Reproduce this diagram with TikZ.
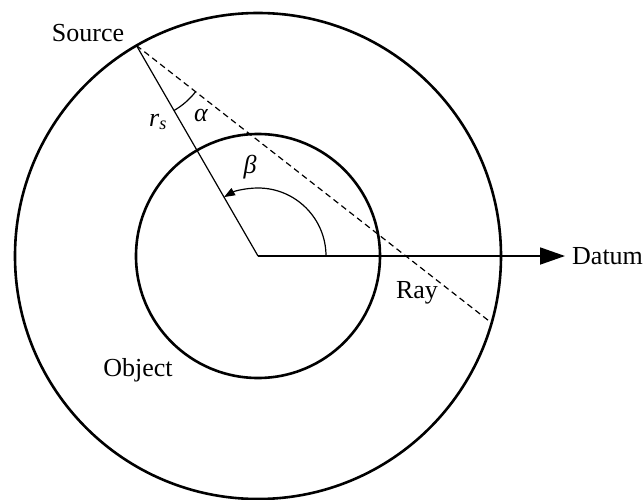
\documentclass[tikz,border=0pt]{standalone}
\usepackage{fontspec}
\setmainfont{Liberation Serif}
\usetikzlibrary{arrows.meta,calc}
\begin{document}
\begin{tikzpicture}[x=1pt,y=1pt,
  lbl/.style={font=\fontsize{26}{30}\selectfont, inner sep=0pt},
  ring/.style={line width=2.6pt},
  thinline/.style={line width=1.2pt},
  rayline/.style={line width=1.2pt, dash pattern=on 6pt off 4pt}]
\useasboundingbox (-258,-243) rectangle (385,256);
\coordinate (O) at (0,0);
\coordinate (S) at (120:243);
\coordinate (R) at (-16:243);
\coordinate (D) at (307,0);
\draw[ring] (O) circle[radius=243];
\draw[ring] (O) circle[radius=122];
\draw[thinline] (S) -- (O);
\draw[rayline] (S) -- (R);
\draw[line width=1.8pt, -{Triangle[length=25pt,width=17pt]}] (O) -- (D);
\draw[thinline] ($(S)+(-60:75)$) arc[start angle=-60, end angle=-38, radius=75];
\draw[thinline, -{Triangle[length=11pt,width=8pt]}] (68,0) arc[start angle=0, end angle=120, radius=68];
\node[lbl] (src) at (-170,223) {Source};
\node[lbl] (alpha) at (-57,141) {\itshape α};
\node[lbl] (rs) at (-100,134) {\itshape r\textsubscript{s}};
\node[lbl] (beta) at (-8,89) {\itshape β};
\node[lbl] (ray) at (159,-37) {Ray};
\node[lbl] (obj) at (-120,-114) {Object};
\node[lbl, anchor=west] (datum) at (314,0) {Datum};
\end{tikzpicture}
\end{document}
